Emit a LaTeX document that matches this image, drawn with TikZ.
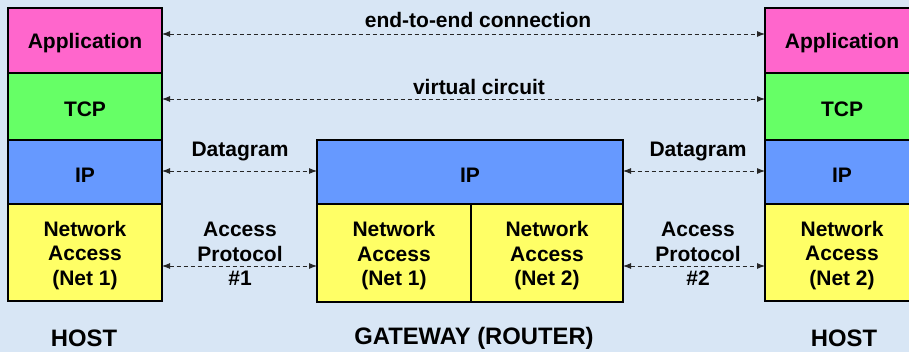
\documentclass[tikz,border=0pt]{standalone}
\usepackage{fontspec}
\setmainfont{Liberation Sans}
\usetikzlibrary{arrows.meta}
\definecolor{bgblue}{RGB}{216,230,245}
\definecolor{appcol}{RGB}{255,102,204}
\definecolor{tcpcol}{RGB}{102,255,102}
\definecolor{ipcol}{RGB}{102,153,255}
\definecolor{nacol}{RGB}{255,255,102}
\begin{document}
\begin{tikzpicture}[x=1pt,y=-1pt,
  layer/.style={draw=black, line width=1.3pt, inner sep=0pt, outer sep=0pt},
  boxtxt/.style={inner sep=0pt, yshift=-3pt, align=center,
    font=\fontsize{21}{24.5}\selectfont\bfseries},
  lbl/.style={inner sep=0pt, align=center, font=\fontsize{21}{24.5}\selectfont\bfseries},
  caption/.style={inner sep=0pt, font=\fontsize{23.8}{27}\selectfont\bfseries},
  conn/.style={draw=black!85, line width=0.9pt, dash pattern=on 4pt off 3pt,
    {Latex[length=8pt,width=6pt]}-{Latex[length=8pt,width=6pt]}}]
  % background and page frame
  \fill[bgblue] (0,0) rectangle (909,352);
  \useasboundingbox (0,0) rectangle (909,352);
  \clip (0,0) rectangle (909,352);

  % left host stack
  \node[layer, fill=appcol, minimum width=154pt, minimum height=65pt,
    label={[boxtxt]center:Application}] (appL) at (85,40.5) {};
  \node[layer, fill=tcpcol, minimum width=154pt, minimum height=67pt,
    label={[boxtxt]center:TCP}] (tcpL) at (85,106.5) {};
  \node[layer, fill=ipcol, minimum width=154pt, minimum height=64pt,
    label={[boxtxt]center:IP}] (ipL) at (85,172) {};
  \node[layer, fill=nacol, minimum width=154pt, minimum height=97pt,
    label={[boxtxt]center:{Network\\Access\\(Net 1)}}] (naL) at (85,252.5) {};

  % gateway
  \node[layer, fill=ipcol, minimum width=306pt, minimum height=64pt,
    label={[boxtxt]center:IP}] (ipG) at (470,172) {};
  \node[layer, fill=nacol, minimum width=154pt, minimum height=98pt,
    label={[boxtxt]center:{Network\\Access\\(Net 1)}}] (naG1) at (394,253) {};
  \node[layer, fill=nacol, minimum width=152pt, minimum height=98pt,
    label={[boxtxt]center:{Network\\Access\\(Net 2)}}] (naG2) at (547,253) {};

  % right host stack
  \node[layer, fill=appcol, minimum width=154pt, minimum height=65pt,
    label={[boxtxt]center:Application}] (appR) at (842,40.5) {};
  \node[layer, fill=tcpcol, minimum width=154pt, minimum height=67pt,
    label={[boxtxt]center:TCP}] (tcpR) at (842,106.5) {};
  \node[layer, fill=ipcol, minimum width=154pt, minimum height=64pt,
    label={[boxtxt]center:IP}] (ipR) at (842,172) {};
  \node[layer, fill=nacol, minimum width=154pt, minimum height=97pt,
    label={[boxtxt]center:{Network\\Access\\(Net 2)}}] (naR) at (842,252.5) {};

  % peer connections
  \draw[conn] ([yshift=6.5pt]appL.east) -- ([yshift=6.5pt]appR.west);
  \draw[conn] ([yshift=7.5pt]tcpL.east) -- ([yshift=7.5pt]tcpR.west);
  \draw[conn] ([yshift=1pt]ipL.east) -- ([yshift=1pt]ipG.west);
  \draw[conn] ([yshift=1pt]ipG.east) -- ([yshift=1pt]ipR.west);
  \draw[conn] ([yshift=-13.5pt]naL.east) -- ([yshift=-13pt]naG1.west);
  \draw[conn] ([yshift=-13pt]naG2.east) -- ([yshift=-13.5pt]naR.west);

  % connection labels
  \node[lbl] (lblE2E) at (478,20) {end-to-end connection};
  \node[lbl] (lblVC) at (479,87) {virtual circuit};
  \node[lbl] (lblDg1) at (240,152) {Datagram};
  \node[lbl] (lblDg2) at (698,152) {Datagram};
  \node[lbl] (lblAP1) at (240,254) {Access\\Protocol\\\#1};
  \node[lbl] (lblAP2) at (698,254) {Access\\Protocol\\\#2};

  % captions
  \node[caption] (capL) at (84,338) {HOST};
  \node[caption] (capG) at (474,338) {GATEWAY (ROUTER)};
  \node[caption] (capR) at (844,338) {HOST};
\end{tikzpicture}
\end{document}
